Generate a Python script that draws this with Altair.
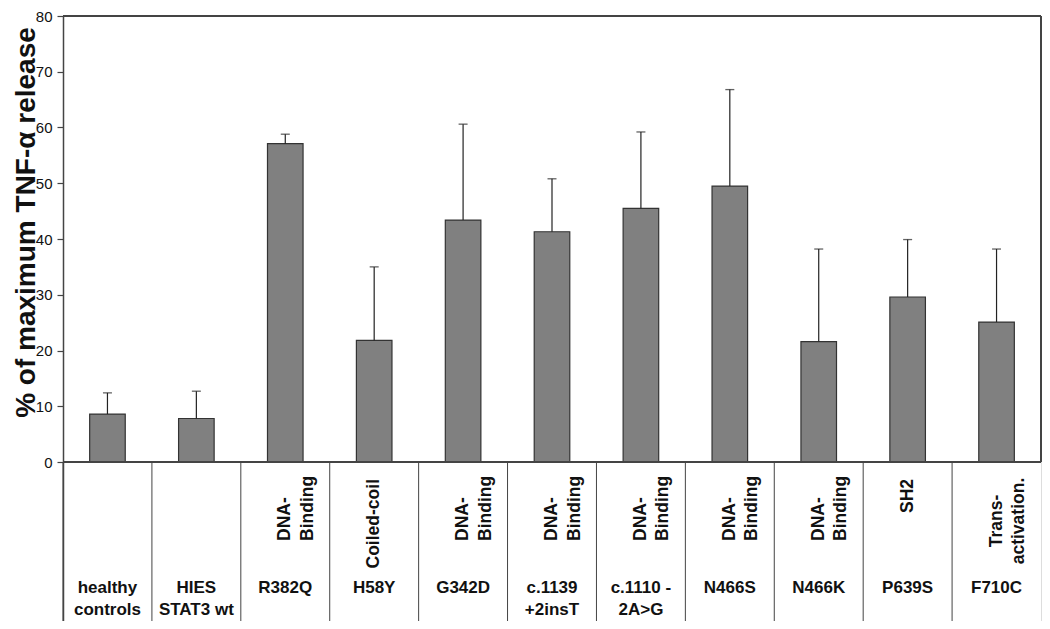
import altair as alt
import pandas as pd

# ---- data ----
categories = ["healthy\ncontrols", "HIES\nSTAT3 wt", "R382Q", "H58Y", "G342D",
              "c.1139\n+2insT", "c.1110 -\n2A>G", "N466S", "N466K", "P639S", "F710C"]
domains = ["", "", "DNA-\nBinding", "Coiled-coil", "DNA-\nBinding", "DNA-\nBinding",
           "DNA-\nBinding", "DNA-\nBinding", "DNA-\nBinding", "SH2", "Trans-\nactivation."]
means = [8.6, 7.8, 57.1, 21.8, 43.4, 41.3, 45.5, 49.5, 21.6, 29.6, 25.1]
sds = [3.8, 4.9, 1.7, 13.2, 17.2, 9.5, 13.7, 17.3, 16.6, 10.3, 13.1]
y_ticks = [0, 10, 20, 30, 40, 50, 60, 70, 80]

n = len(categories)
df = pd.DataFrame({
    "cat": categories,
    "idx": [i + 0.5 for i in range(n)],
    "domain": domains,
    "mean": means,
    "sd": sds,
})
df["upper"] = df["mean"] + df["sd"]
bounds = pd.DataFrame({"b": list(range(n))})

# ---- layout ----
W = 978
H_PLOT = 446
H_TABLE = 159
H = H_PLOT + H_TABLE
Y_MAX = 80
Y_MIN = -Y_MAX * H_TABLE / H_PLOT
FONT = "Liberation Sans"
LINE = "#444444"
TXT = "#111111"

y_scale = alt.Scale(domain=[Y_MIN, Y_MAX], nice=False, zero=False)
xq_scale = alt.Scale(domain=[0, n], nice=False, zero=False)
x_band = alt.X("cat:N", sort=categories, axis=None,
               scale=alt.Scale(paddingInner=0.6, paddingOuter=0.3))

y_axis = alt.Axis(
    values=y_ticks, grid=False, format="d",
    domain=True, domainColor=LINE, domainWidth=1.5,
    ticks=True, tickSize=6, tickColor=LINE, tickWidth=1.2,
    labelPadding=5, labelFont=FONT, labelFontSize=15, labelColor=TXT,
    title="% of maximum TNF-α release",
    titleFont=FONT, titleFontSize=28, titleFontWeight="bold", titleColor=TXT,
    titleX=-29, titleY=206, titleBaseline="alphabetic",
)

bars = alt.Chart(df).mark_bar(color="#808080", stroke="#333333", strokeWidth=1.2).encode(
    x=x_band,
    y=alt.Y("mean:Q", scale=y_scale, axis=y_axis),
    y2=alt.datum(0),
)
err = alt.Chart(df).mark_rule(color="#222222", strokeWidth=1.2).encode(
    x=x_band, y="mean:Q", y2="upper:Q"
)
caps = alt.Chart(df).mark_tick(color="#222222", thickness=1.3, size=9).encode(
    x=x_band, y="upper:Q"
)

# frame lines
top_line = alt.Chart(df).mark_rule(color=LINE, strokeWidth=1.5).encode(y=alt.datum(Y_MAX))
zero_line = alt.Chart(df).mark_rule(color=LINE, strokeWidth=1.5).encode(y=alt.datum(0))
right_line = alt.Chart(df).mark_rule(color=LINE, strokeWidth=1.5).encode(
    x=alt.X("r:Q", scale=xq_scale, axis=None), y=alt.datum(0), y2=alt.datum(Y_MAX)
).transform_calculate(r=str(n))

# table separators
seps = alt.Chart(bounds).mark_rule(color=LINE, strokeWidth=1).encode(
    x=alt.X("b:Q", scale=xq_scale, axis=None), y=alt.datum(0), y2=alt.datum(Y_MIN)
)

x_idx = alt.X("idx:Q", scale=xq_scale, axis=None)

cat_text = alt.Chart(df).mark_text(
    font=FONT, fontSize=17, fontWeight="bold", lineBreak="\n", lineHeight=22,
    baseline="alphabetic", align="center", color=TXT
).encode(x=x_idx, y=alt.value(H_PLOT + 131), text="cat:N")

dom_common = dict(font=FONT, fontSize=17.5, fontWeight="bold", lineBreak="\n",
                  lineHeight=22.5, baseline="middle", angle=270, color=TXT)

dom_binding = alt.Chart(df).transform_filter(
    "indexof(datum.domain, 'Binding') >= 0"
).mark_text(align="left", **dom_common).encode(
    x=x_idx, y=alt.value(H_PLOT + 79), text="domain:N")

dom_single = alt.Chart(df).transform_filter(
    "datum.domain == 'Coiled-coil' || datum.domain == 'SH2'"
).mark_text(align="right", **dom_common).encode(
    x=x_idx, y=alt.value(H_PLOT + 17), text="domain:N")

dom_trans = alt.Chart(df).transform_filter(
    "indexof(datum.domain, 'activation') >= 0"
).mark_text(align="center", **dom_common).encode(
    x=x_idx, y=alt.value(H_PLOT + 59), text="domain:N")

chart = alt.layer(
    bars, err, caps, top_line, zero_line, right_line, seps,
    cat_text, dom_binding, dom_single, dom_trans
).resolve_scale(
    x="independent"
).properties(
    width=W, height=H,
    autosize=alt.AutoSizeParams(type="none"),
    padding={"left": 55, "top": 8, "right": 1, "bottom": 0},
).configure_view(strokeWidth=0).configure(background="white")

chart.save("out.html", embed_options={"renderer": "svg", "actions": False})
